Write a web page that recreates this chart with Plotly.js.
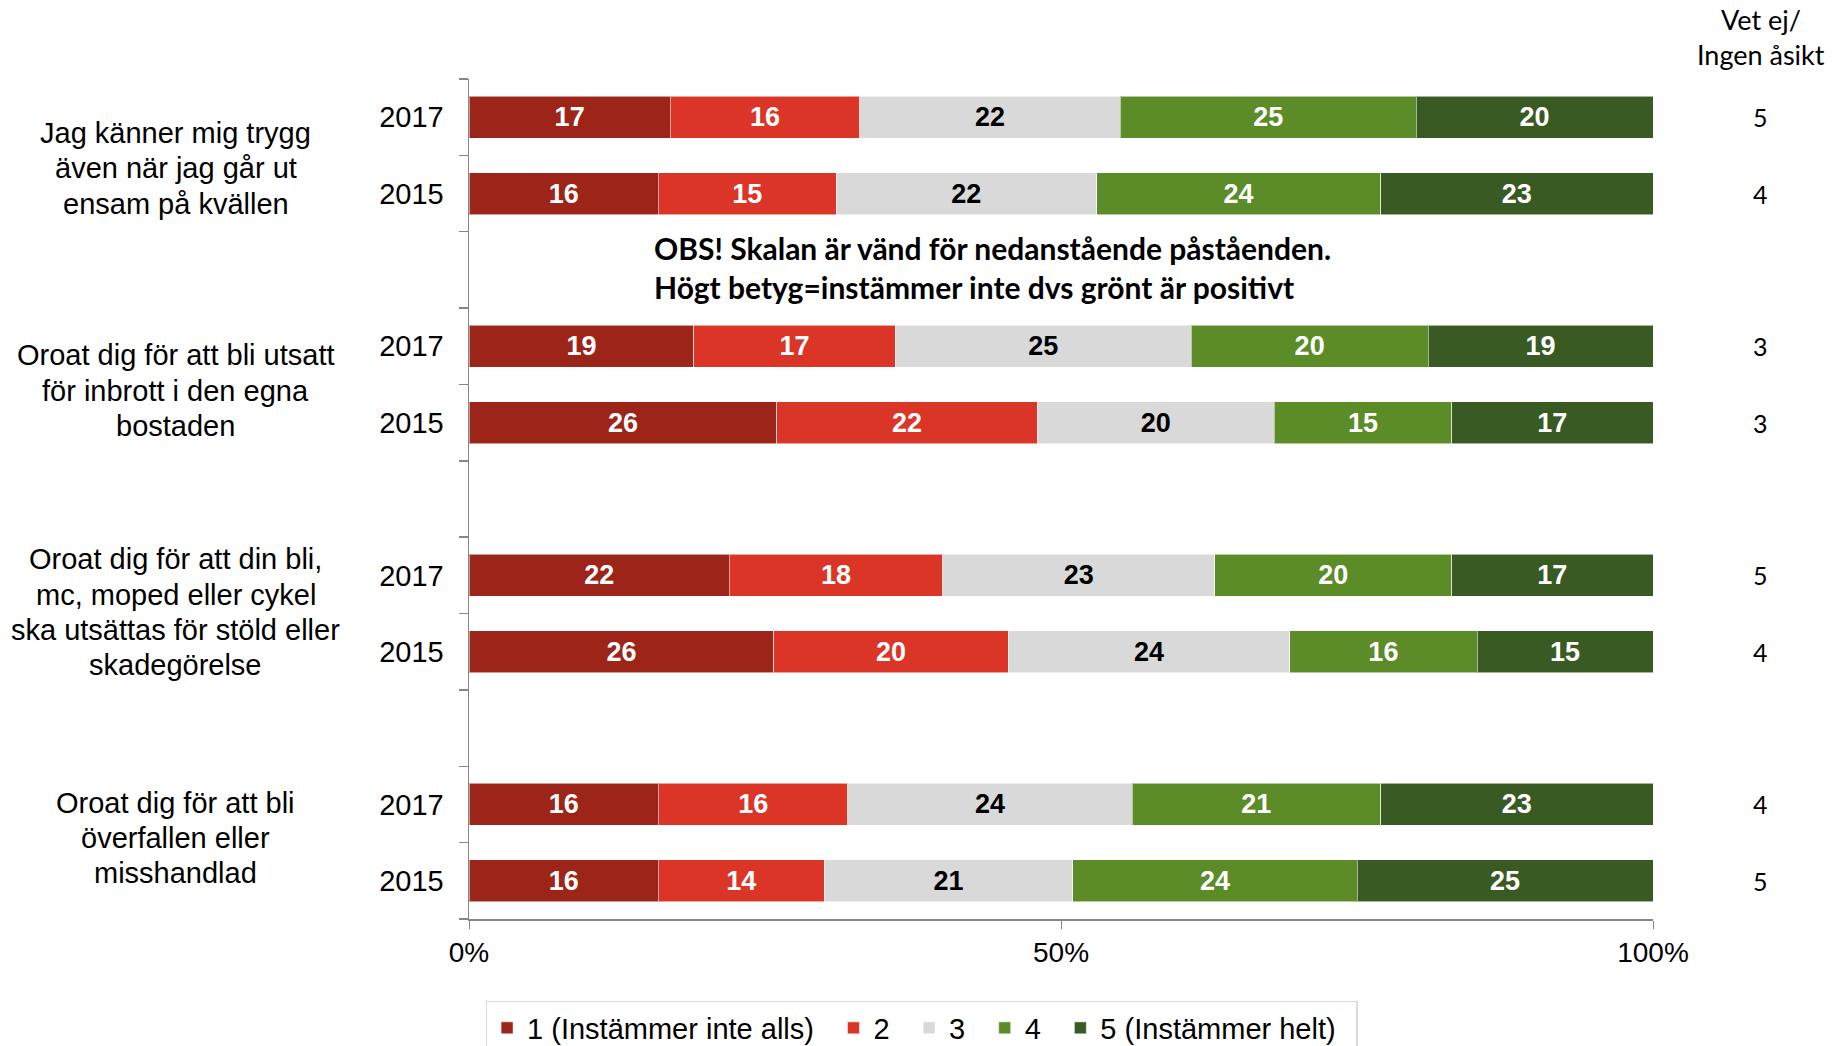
<!DOCTYPE html>
<html>
<head>
<meta charset="utf-8">
<script src="https://cdn.plot.ly/plotly-3.0.1.min.js"></script>
<style>html,body{margin:0;padding:0;background:#fff;}#chart{width:1843px;height:1046px;}</style>
</head>
<body>
<div id="chart"></div>
<script>
// ---- Data ----
const questions = [
  "Jag känner mig trygg<br>även när jag går ut<br>ensam på kvällen",
  "Oroat dig för att bli utsatt<br>för inbrott i den egna<br>bostaden",
  "Oroat dig för att din bli,<br>mc, moped eller cykel<br>ska utsättas för stöld eller<br>skadegörelse",
  "Oroat dig för att bli<br>överfallen eller<br>misshandlad"
];
const years = ["2017", "2015"];
const seriesNames = ["1 (Instämmer inte alls)", "2", "3", "4", "5 (Instämmer helt)"];
// values per question, per year (2017, 2015)
const s1 = [[17, 16], [19, 26], [22, 26], [16, 16]];
const s2 = [[16, 15], [17, 22], [18, 20], [16, 14]];
const s3 = [[22, 22], [25, 20], [23, 24], [24, 21]];
const s4 = [[25, 24], [20, 15], [20, 16], [21, 24]];
const s5 = [[20, 23], [19, 17], [17, 15], [23, 25]];
const vetEj = [[5, 4], [3, 3], [5, 4], [4, 5]];
const xTicks = [0, 50, 100];
const noteLines = ["OBS! Skalan är vänd för nedanstående påståenden.", "Högt betyg=instämmer inte dvs grönt är positivt"];
const vetEjHeader = ["Vet ej/", "Ingen åsikt"];

// ---- Styles ----
const colors = ["#9C2419", "#DA3526", "#D9D9D9", "#5B8C28", "#3A5A24"];
const textColors = ["#ffffff", "#ffffff", "#000000", "#ffffff", "#ffffff"];
const font = "Liberation Sans, Arial, sans-serif";
const calib = "Lato, Carlito, Calibri, sans-serif";

// row positions: question g, year j -> 3g + j (blank row between groups)
const rowPos = [], rowLab = [], rowKey = [];
questions.forEach((q, g) => years.forEach((yr, j) => { rowPos.push(3 * g + j); rowLab.push(yr); rowKey.push([g, j]); }));

const allSeries = [s1, s2, s3, s4, s5];
const traces = allSeries.map((s, k) => ({
  type: "bar",
  orientation: "h",
  name: seriesNames[k] + "\u2002",
  y: rowPos,
  x: rowKey.map(([g, j]) => s[g][j]),
  text: rowKey.map(([g, j]) => String(s[g][j])),
  textposition: "inside",
  insidetextanchor: "middle",
  constraintext: "none",
  textangle: 0,
  textfont: { family: font, size: 27, color: textColors[k], weight: "bold" },
  marker: { color: colors[k], line: { color: "rgba(255,255,255,0.55)", width: 1 } },
  hoverinfo: "skip"
}));

const annotations = [];
// question labels, line by line (line step in row units)
const lineStep = 0.462;
const labelOffsets = [0.17, 0.08, -0.015, -0.06];
questions.forEach((q, g) => {
  const lines = q.split("<br>");
  lines.forEach((ln, i) => {
    annotations.push({
      xref: "paper", yref: "y", x: -0.2475,
      y: 3 * g + 0.5 + labelOffsets[g] + (i - (lines.length - 1) / 2) * lineStep,
      text: ln, showarrow: false, xanchor: "center", yanchor: "middle",
      font: { family: font, size: 29, color: "#000" }
    });
  });
});
// vet ej values
rowKey.forEach(([g, j], i) => {
  annotations.push({
    xref: "paper", yref: "y", x: 1.091, y: rowPos[i], text: String(vetEj[g][j]),
    showarrow: false, xanchor: "center", yanchor: "middle",
    font: { family: calib, size: 25, color: "#000" }
  });
});
vetEjHeader.forEach((ln, i) => {
  annotations.push({
    xref: "paper", yref: "paper", x: 1.091, y: 1.071 - i * 0.0418, text: ln, showarrow: false,
    xanchor: "center", yanchor: "middle",
    font: { family: calib, size: 27, color: "#000" }
  });
});
// note
annotations.push({
  xref: "paper", yref: "y", x: 0.1546, y: 1.97, text: "<b>" + noteLines.join("<br>") + "</b>",
  showarrow: false, xanchor: "left", yanchor: "middle", align: "left",
  font: { family: calib, size: 30, color: "#000" }
});

const layout = {
  width: 1843, height: 1046,
  margin: { l: 469, r: 190, t: 79, b: 127, autoexpand: false },
  paper_bgcolor: "#fff", plot_bgcolor: "#fff",
  barmode: "stack", barnorm: "percent", bargap: 0.45,
  showlegend: true,
  legend: {
    orientation: "h", x: 0.014, y: -0.0976, xanchor: "left", yanchor: "top",
    bordercolor: "#D9D9D9", borderwidth: 1.5, font: { family: font, size: 29, color: "#000" },
    traceorder: "normal", itemwidth: 30, tracegroupgap: 0
  },
  xaxis: {
    range: [0, 100], tickvals: xTicks, ticktext: xTicks.map(v => v + "%"),
    showgrid: false, zeroline: false, showline: true, linecolor: "#868686", linewidth: 1.5,
    ticks: "outside", ticklen: 8, tickcolor: "#868686",
    tickfont: { family: font, size: 28, color: "#000" }, fixedrange: true
  },
  yaxis: {
    range: [10.5, -0.5], tickvals: rowPos, ticktext: rowLab,
    showgrid: false, zeroline: false, showline: true, linecolor: "#868686", linewidth: 1.5,
    ticks: "", ticklabelstandoff: 18,
    tickfont: { family: font, size: 29, color: "#000" },
    minor: { tickmode: "linear", tick0: -0.5, dtick: 1, ticks: "outside", ticklen: 9, tickcolor: "#868686", tickwidth: 1.5, showgrid: false },
    fixedrange: true
  },
  annotations: annotations
};

Plotly.newPlot("chart", traces, layout, { displayModeBar: false, staticPlot: true });
</script>
</body>
</html>
